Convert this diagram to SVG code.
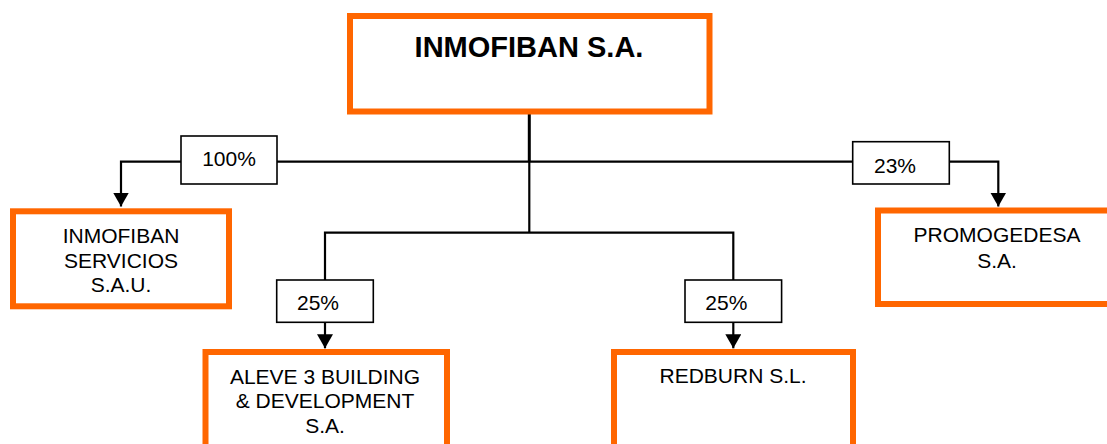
<svg xmlns="http://www.w3.org/2000/svg" width="1107" height="444" viewBox="0 0 1107 444">
<defs>
<style>
.node{fill:#fff;stroke:#FF6600;stroke-width:6}
.lab{fill:#fff;stroke:#000;stroke-width:1.6}
.t{font-family:"Liberation Sans",Arial,sans-serif;font-size:21px;fill:#000;text-anchor:middle}
.title{font-family:"Liberation Sans",Arial,sans-serif;font-size:29px;font-weight:bold;fill:#000;text-anchor:middle}
.c{fill:none;stroke:#000;stroke-width:2.2}
</style>
<marker id="arr" markerUnits="userSpaceOnUse" markerWidth="16" markerHeight="15" refX="8" refY="14" orient="0" viewBox="0 0 16 15">
<path d="M0,0 L16,0 L8,14 Z" fill="#000"/>
</marker>
</defs>
<rect width="1107" height="444" fill="#fff"/>
<g id="connectors">
<line class="c" x1="529.3" y1="111" x2="529.3" y2="162" style="stroke-width:3"/>
<line class="c" x1="277" y1="161.7" x2="853" y2="161.7"/>
<polyline class="c" points="181,161.7 121,161.7 121,206.5" marker-end="url(#arr)"/>
<polyline class="c" points="949,161.7 998.3,161.7 998.3,206.5" marker-end="url(#arr)"/>
<line class="c" x1="529.3" y1="161.7" x2="529.3" y2="232.7"/>
<polyline class="c" points="325,280 325,232.7 733.3,232.7 733.3,280"/>
<line class="c" x1="325" y1="322.3" x2="325" y2="348.3" marker-end="url(#arr)"/>
<line class="c" x1="733.3" y1="322.3" x2="733.3" y2="348.3" marker-end="url(#arr)"/>
</g>
<g id="lbl100"><rect class="lab" x="181" y="136" width="96" height="48"/><text class="t" x="229" y="166">100%</text></g>
<g id="lbl23"><rect class="lab" x="852.7" y="141.7" width="96.6" height="42.3"/><text class="t" x="895" y="173">23%</text></g>
<g id="lbl25a"><rect class="lab" x="276.7" y="280" width="96.6" height="42.3"/><text class="t" x="318" y="310">25%</text></g>
<g id="lbl25b"><rect class="lab" x="685" y="280" width="96.6" height="42.3"/><text class="t" x="726.3" y="310">25%</text></g>
<g id="inmofiban"><rect class="node" x="350" y="16" width="359.5" height="95.5"/><text class="title" x="529" y="57">INMOFIBAN S.A.</text></g>
<g id="servicios"><rect class="node" x="13" y="211.3" width="216" height="95"/>
<text class="t" x="121" y="243.3">INMOFIBAN</text><text class="t" x="121" y="267.7">SERVICIOS</text><text class="t" x="121" y="291.7">S.A.U.</text></g>
<g id="promogedesa"><rect class="node" x="878" y="210.5" width="240" height="93.5"/>
<text class="t" x="997" y="242.3">PROMOGEDESA</text><text class="t" x="997" y="267.7">S.A.</text></g>
<g id="aleve"><rect class="node" x="205.5" y="352" width="241.5" height="110"/>
<text class="t" x="325" y="384">ALEVE 3 BUILDING</text><text class="t" x="325" y="408.3">&amp; DEVELOPMENT</text><text class="t" x="325" y="433.3">S.A.</text></g>
<g id="redburn"><rect class="node" x="614" y="352" width="239" height="110"/>
<text class="t" x="733" y="383.3">REDBURN S.L.</text></g>
</svg>
